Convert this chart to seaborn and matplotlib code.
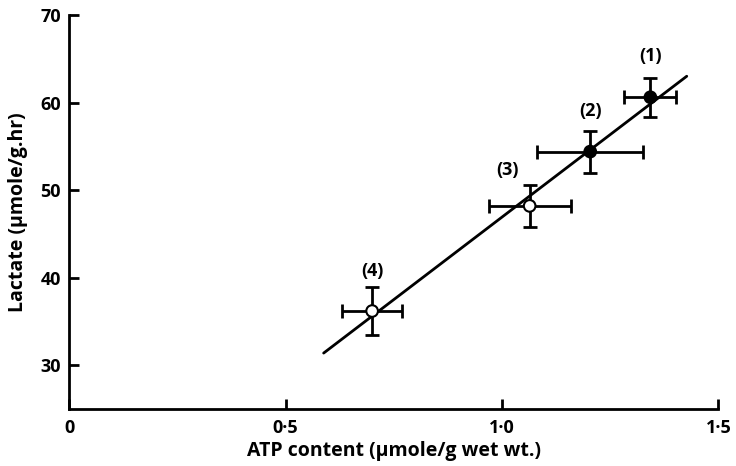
import matplotlib
matplotlib.use("Agg")
import matplotlib.pyplot as plt
import seaborn as sns
import pandas as pd

# Mean ATP content and lactate production for four groups
labels = ["(1)", "(2)", "(3)", "(4)"]
atp = [1.343, 1.204, 1.064, 0.700]
atp_err = [0.060, 0.123, 0.095, 0.070]
lactate = [60.6, 54.4, 48.2, 36.2]
lactate_err = [2.2, 2.4, 2.4, 2.7]
filled = [True, True, False, False]

# Fitted regression line (end points)
fit_atp = [0.588, 1.427]
fit_lactate = [31.4, 63.0]

x_ticks = [0, 0.5, 1.0, 1.5]
x_tick_labels = ["0", "0·5", "1·0", "1·5"]
y_ticks = [30, 40, 50, 60, 70]

sns.set_style("ticks")
plt.rcParams["font.family"] = ["Open Sans", "DejaVu Sans"]
plt.rcParams["font.weight"] = "bold"
plt.rcParams["text.color"] = "black"
plt.rcParams["axes.labelcolor"] = "black"

df = pd.DataFrame({"atp": atp, "lactate": lactate, "label": labels,
                   "kind": ["filled" if f else "open" for f in filled]})
fit = pd.DataFrame({"atp": fit_atp, "lactate": fit_lactate})

fig = plt.figure(figsize=(7.36, 4.66), dpi=100)
ax = fig.add_axes([0.094, 0.122, 0.882, 0.846])

sns.lineplot(data=fit, x="atp", y="lactate", color="black", lw=2.0, ax=ax, zorder=2)

ax.errorbar(atp, lactate, xerr=atp_err, yerr=lactate_err, fmt="none",
            ecolor="black", elinewidth=2.0, capsize=5, capthick=2.0, zorder=3)

sns.scatterplot(data=df, x="atp", y="lactate", hue="kind",
                palette={"filled": "black", "open": "white"},
                edgecolor="black", linewidth=1.5, s=70, legend=False,
                ax=ax, zorder=4)

# label offsets (points) above each upper error-bar cap
offsets = [(0, 16), (0, 14), (-16, 11), (0, 12)]
for lab, x, y, e, off in zip(labels, atp, lactate, lactate_err, offsets):
    ax.annotate(lab, (x, y + e), xytext=off, textcoords="offset points",
                ha="center", va="center", fontsize=13, fontweight="bold")

ax.set_xlim(0, 1.5)
ax.set_ylim(25, 70)
ax.set_xticks(x_ticks)
ax.set_xticklabels(x_tick_labels)
ax.set_yticks(y_ticks)

for side in ("top", "right"):
    ax.spines[side].set_visible(False)
for side in ("left", "bottom"):
    ax.spines[side].set_linewidth(2.0)
    ax.spines[side].set_color("black")

ax.tick_params(direction="in", length=7, width=2.0, labelsize=13,
               colors="black", labelcolor="black")
ax.tick_params(axis="x", pad=7)
ax.tick_params(axis="y", pad=6)

ax.set_xlabel("ATP content (μmole/g wet wt.)", fontsize=14, fontweight="bold", labelpad=3)
ax.set_ylabel("Lactate (μmole/g.hr)", fontsize=14, fontweight="bold", labelpad=9)

fig.savefig("out.png", dpi=100)
